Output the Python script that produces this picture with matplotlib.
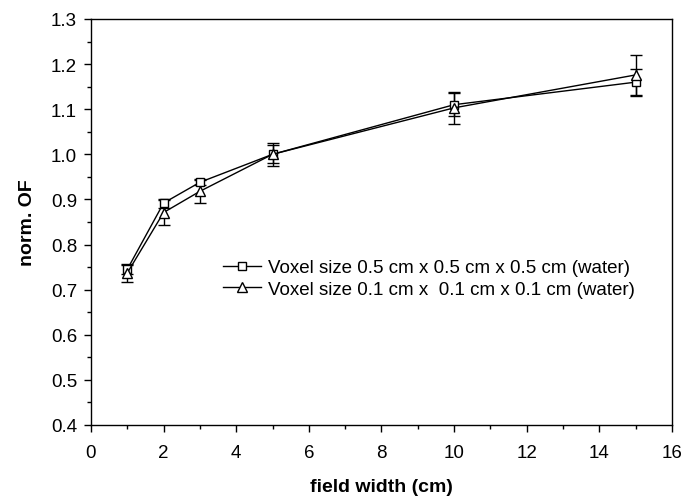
import matplotlib.pyplot as plt
from matplotlib.lines import Line2D
from matplotlib.ticker import MultipleLocator

plt.rcParams['font.family'] = ['Liberation Sans', 'DejaVu Sans']

# field widths (cm)
width = [1, 2, 3, 5, 10, 15]

# voxel 0.5 cm
of_05 = [0.745, 0.892, 0.938, 1.000, 1.110, 1.160]
err_05 = [0.010, 0.010, 0.007, 0.020, 0.025, 0.030]

# voxel 0.1 cm
of_01 = [0.737, 0.871, 0.918, 1.000, 1.103, 1.176]
err_01 = [0.020, 0.027, 0.025, 0.025, 0.035, 0.045]

labels = ['Voxel size 0.5 cm x 0.5 cm x 0.5 cm (water)',
          'Voxel size 0.1 cm x  0.1 cm x 0.1 cm (water)']

fig = plt.figure(figsize=(6.85, 5.02), dpi=100)
ax = fig.add_axes([0.1328, 0.1514, 0.8482, 0.8088])

ax.errorbar(width, of_05, yerr=err_05, color='black', lw=1.0,
            marker='s', ms=6, mfc='white', mec='black', mew=1.0,
            capsize=4.5, elinewidth=1.0, capthick=1.0)
ax.errorbar(width, of_01, yerr=err_01, color='black', lw=1.0,
            marker='^', ms=7, mfc='white', mec='black', mew=1.0,
            capsize=4.5, elinewidth=1.0, capthick=1.0)

ax.set_xlim(0, 16)
ax.set_ylim(0.4, 1.3)
ax.xaxis.set_major_locator(MultipleLocator(2))
ax.xaxis.set_minor_locator(MultipleLocator(1))
ax.yaxis.set_major_locator(MultipleLocator(0.1))
ax.yaxis.set_minor_locator(MultipleLocator(0.05))
ax.yaxis.set_major_formatter(plt.FormatStrFormatter('%.1f'))
ax.tick_params(which='major', direction='out', length=5, width=1, labelsize=13.5, pad=5)
ax.tick_params(axis='x', which='major', pad=9)
ax.tick_params(which='minor', direction='out', length=3, width=1)
ax.tick_params(top=False, right=False, which='both')
for s in ax.spines.values():
    s.set_linewidth(1.0)

ax.set_xlabel('field width (cm)', fontsize=14, fontweight='bold', labelpad=12)
ax.set_ylabel('norm. OF', fontsize=14, fontweight='bold', labelpad=11)

# legend handles without error bars
h1 = Line2D([], [], color='black', lw=1.0, marker='s', ms=6, mfc='white', mec='black')
h2 = Line2D([], [], color='black', lw=1.0, marker='^', ms=7, mfc='white', mec='black')
ax.legend([h1, h2], labels, loc='center left', bbox_to_anchor=(0.228, 0.361),
          frameon=False, fontsize=13.5, handlelength=2.0, handletextpad=0.35,
          labelspacing=0.25, borderaxespad=0, borderpad=0)

fig.savefig('out.png', dpi=100)
